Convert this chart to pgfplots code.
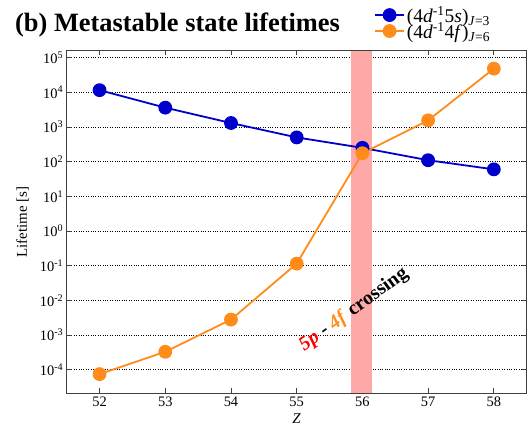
\documentclass[border=0pt]{standalone}
\usepackage{fontspec}
\setmainfont{Liberation Serif}
\usepackage{pgfplots}
\pgfplotsset{compat=1.18}
\definecolor{myblue}{RGB}{0,0,204}
\definecolor{myorange}{RGB}{255,140,26}
\definecolor{bandred}{RGB}{255,168,168}
\begin{document}
\begin{tikzpicture}
\path[use as bounding box] (-66.7bp,-45.7bp) rectangle (462.3bp,393.3bp);
\begin{axis}[
  name=ax, at={(0,0)}, anchor=south west,
  scale only axis, width=460bp, height=342.8bp,
  xmin=51.5, xmax=58.5,
  ymode=log, ymin=2.1e-5, ymax=1.6e5,
  xtick={52,53,54,55,56,57,58},
  ytick={1e-4,1e-3,1e-2,1e-1,1,1e1,1e2,1e3,1e4,1e5},
  yticklabels={10\textsuperscript{-4},10\textsuperscript{-3},10\textsuperscript{-2},10\textsuperscript{-1},10\textsuperscript{0},10\textsuperscript{1},10\textsuperscript{2},10\textsuperscript{3},10\textsuperscript{4},10\textsuperscript{5}},
  yminorticks=false,
  /pgf/number format/assume math mode=true,
  tick label style={font=\fontsize{14.5}{16}\selectfont},
  ymajorgrids, major grid style={black, dotted, line width=0.7bp},
  axis line style={black!75, line width=1.2bp},
  major tick length=5bp,
  tick style={black!75, line width=0.8bp},
  ylabel={Lifetime [s]},
  ylabel style={font=\fontsize{15}{16}\selectfont, xshift=0bp, yshift=4bp},
  xlabel={\textit{Z}},
  xlabel style={font=\fontsize{15}{16}\selectfont},
  legend style={at={(0.668,1.136)}, anchor=north west, draw=none, fill=none,
    font=\fontsize{19.5}{19.5}\selectfont, row sep=-6bp, inner sep=0pt,
    cells={anchor=west}},
  legend image code/.code={\draw[#1, mark repeat=2, mark phase=2] plot coordinates {(0bp,0bp)(14.5bp,0bp)(29bp,0bp)};},
]
\fill[bandred] (axis cs:55.83,2.1e-5) rectangle (axis cs:56.15,1.6e5);
\addplot[myblue, line width=1.8bp, mark=*, mark size=6bp, mark options={solid, fill=myblue, draw=myblue}]
  coordinates {(52,11500)(53,3600)(54,1300)(55,500)(56,250)(57,110)(58,60)};
\addlegendentry{(4\textit{d}\textsuperscript{-1}5\textit{s})\textsubscript{\textit{J}=3}}
\addplot[myorange, line width=1.8bp, mark=*, mark size=6bp, mark options={solid, fill=myorange, draw=myorange}]
  coordinates {(52,7.5e-5)(53,3.3e-4)(54,2.8e-3)(55,0.115)(56,175)(57,1550)(58,48000)};
\addlegendentry{(4\textit{d}\textsuperscript{-1}4\textit{f})\textsubscript{\textit{J}=6}}
\node[rotate=36, font=\fontsize{20}{21}\selectfont\bfseries] at (axis cs:55.87,5.4e-3)
  {\textcolor{red}{\textit{5p}} - \textcolor{myorange}{\textit{4f}} crossing};
\end{axis}
\node[anchor=base west, font=\fontsize{26.5}{28}\selectfont\bfseries, inner sep=0pt] at (-51.7bp,362bp) {(b) Metastable state lifetimes};
\end{tikzpicture}
\end{document}
